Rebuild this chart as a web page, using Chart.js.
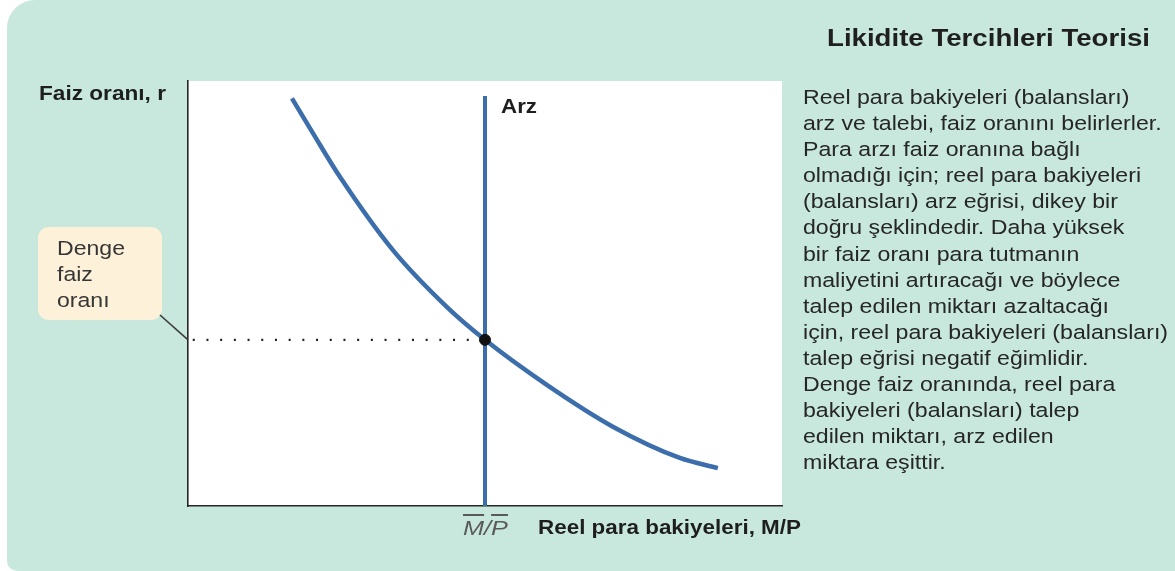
<!DOCTYPE html>
<html>
<head>
<meta charset="utf-8">
<script src="https://cdn.jsdelivr.net/npm/chart.js@4.4.1/dist/chart.umd.min.js"></script>
<style>
  html, body { margin:0; padding:0; background:#ffffff; }
  body { width:1175px; height:571px; position:relative; overflow:hidden;
         font-family:"Liberation Sans", Arial, sans-serif; }
  #card { position:absolute; left:7px; top:0; width:1168px; height:571px;
          background:#C8E8DD; border-radius:28px 0 0 10px; }
  #wrap { position:absolute; left:0; top:0; width:1175px; height:571px; }
  .t { position:absolute; white-space:nowrap; color:#1e1e1e; transform-origin:0 0; }
  .b { font-weight:bold; }
  #title { left:827px; top:27px; font-size:23px; line-height:23px; font-weight:bold; color:#1f1f1f; }
  #para { left:803px; top:84px; font-size:20.5px; line-height:26.1px; color:#262626; }
  #ylab { left:39px; top:82px; font-size:21px; line-height:21px; }
  #arz { left:501px; top:95px; font-size:21px; line-height:21px; }
  #xlab { left:538px; top:516px; font-size:21px; line-height:21px; }
  #mp { left:463px; top:517px; font-size:21px; line-height:21px; font-style:italic; color:#5a5a5a; }
  #mp span { text-decoration:overline; }
  #box { position:absolute; left:38px; top:227px; width:124px; height:93px;
         background:#FDF1DA; border-radius:11px; }
  #boxt { left:57px; top:235px; font-size:20.5px; line-height:26px; color:#363636; }
</style>
</head>
<body>
<div id="card"></div>
<div id="box"></div>
<div id="wrap"><canvas id="c" width="1175" height="571"></canvas></div>
<div class="t" id="title">Likidite Tercihleri Teorisi</div>
<div class="t" id="para">Reel para bakiyeleri (balansları)<br>arz ve talebi, faiz oranını belirlerler.<br>Para arzı faiz oranına bağlı<br>olmadığı için; reel para bakiyeleri<br>(balansları) arz eğrisi, dikey bir<br>doğru şeklindedir. Daha yüksek<br>bir faiz oranı para tutmanın<br>maliyetini artıracağı ve böylece<br>talep edilen miktarı azaltacağı<br>için, reel para bakiyeleri (balansları)<br>talep eğrisi negatif eğimlidir.<br>Denge faiz oranında, reel para<br>bakiyeleri (balansları) talep<br>edilen miktarı, arz edilen<br>miktara eşittir.</div>
<div class="t b" id="ylab">Faiz oranı, r</div>
<div class="t b" id="arz">Arz</div>
<div class="t b" id="xlab">Reel para bakiyeleri, M/P</div>
<div class="t" id="mp"><span>M</span>/<span>P</span></div>
<div class="t" id="boxt">Denge<br>faiz<br>oranı</div>
<script>
// Demand curve (talep)
const demandX = [17.5, 21.0, 25.6, 34.5, 43.6, 50.0, 60.4, 71.6, 82.8, 89.2];
const demandY = [95.9, 87.8, 77.4, 60.2, 46.8, 39.1, 28.5, 18.6, 11.3, 8.9];
// Supply (arz) vertical line
const supplyX = [50, 50];
const supplyY = [0, 96.5];
// Equilibrium
const eqX = 50;
const eqY = 39.1;
// Dotted guide from axis to equilibrium
const guideX = [0.8, 49];
const guideY = [39.1, 39.1];

// horizontal widths of the text blocks in the reference (layout only)
const textWidths = { title: 323, para: 365, ylab: 127, xlab: 263, arz: 36, boxt: 68, mp: 45 };
Object.keys(textWidths).forEach(id => {
  const el = document.getElementById(id);
  const w = el.getBoundingClientRect().width;
  if (w > 0) el.style.transform = 'scaleX(' + (textWidths[id] / w).toFixed(4) + ')';
});

const toPts = (xs, ys) => xs.map((x, i) => ({ x: x, y: ys[i] }));
const BLUE = '#3B6EAA';

const bgPlugin = {
  id: 'bg',
  beforeDraw(chart) {
    const { ctx, chartArea: a } = chart;
    ctx.save();
    ctx.fillStyle = '#ffffff';
    ctx.fillRect(a.left, a.top, a.right - a.left, a.bottom - a.top);
    ctx.restore();
  },
  afterDraw(chart) {
    // callout connector from the "Denge faiz oranı" box to the axis
    const { ctx, chartArea: a, scales } = chart;
    const y = scales.y.getPixelForValue(eqY);
    ctx.save();
    ctx.strokeStyle = '#3a3a3a';
    ctx.lineWidth = 1.6;
    ctx.beginPath();
    ctx.moveTo(160, 315);
    ctx.lineTo(a.left, y);
    ctx.stroke();
    ctx.restore();
  }
};

new Chart(document.getElementById('c'), {
  type: 'scatter',
  data: {
    datasets: [
      { label: 'Denge', data: toPts([eqX], [eqY]), pointRadius: 5.5, pointBackgroundColor: '#111', pointBorderColor: '#111', order: 0 },
      { label: 'Talep', data: toPts(demandX, demandY), showLine: true, borderColor: BLUE, borderWidth: 4.5,
        pointRadius: 0, tension: 0.4, cubicInterpolationMode: 'monotone', order: 1 },
      { label: 'Arz', data: toPts(supplyX, supplyY), showLine: true, borderColor: BLUE, borderWidth: 4,
        pointRadius: 0, order: 2 },
      { label: 'guide', data: toPts(guideX, guideY), showLine: true, borderColor: '#222', borderWidth: 2.2,
        borderDash: [2, 11.7], pointRadius: 0, order: 3 }
    ]
  },
  options: {
    responsive: false,
    animation: false,
    devicePixelRatio: 1,
    layout: { padding: { left: 188, top: 81, right: 393, bottom: 65 } },
    plugins: { legend: { display: false }, tooltip: { enabled: false } },
    scales: {
      x: { type: 'linear', min: 0, max: 100,
           grid: { display: false, drawTicks: false },
           ticks: { display: false },
           border: { display: true, color: '#262626', width: 1.6 },
           afterFit(s) { s.height = 0; } },
      y: { type: 'linear', min: 0, max: 100,
           grid: { display: false, drawTicks: false },
           ticks: { display: false },
           border: { display: true, color: '#262626', width: 1.6 },
           afterFit(s) { s.width = 0; } }
    }
  },
  plugins: [bgPlugin]
});
</script>
</body>
</html>
